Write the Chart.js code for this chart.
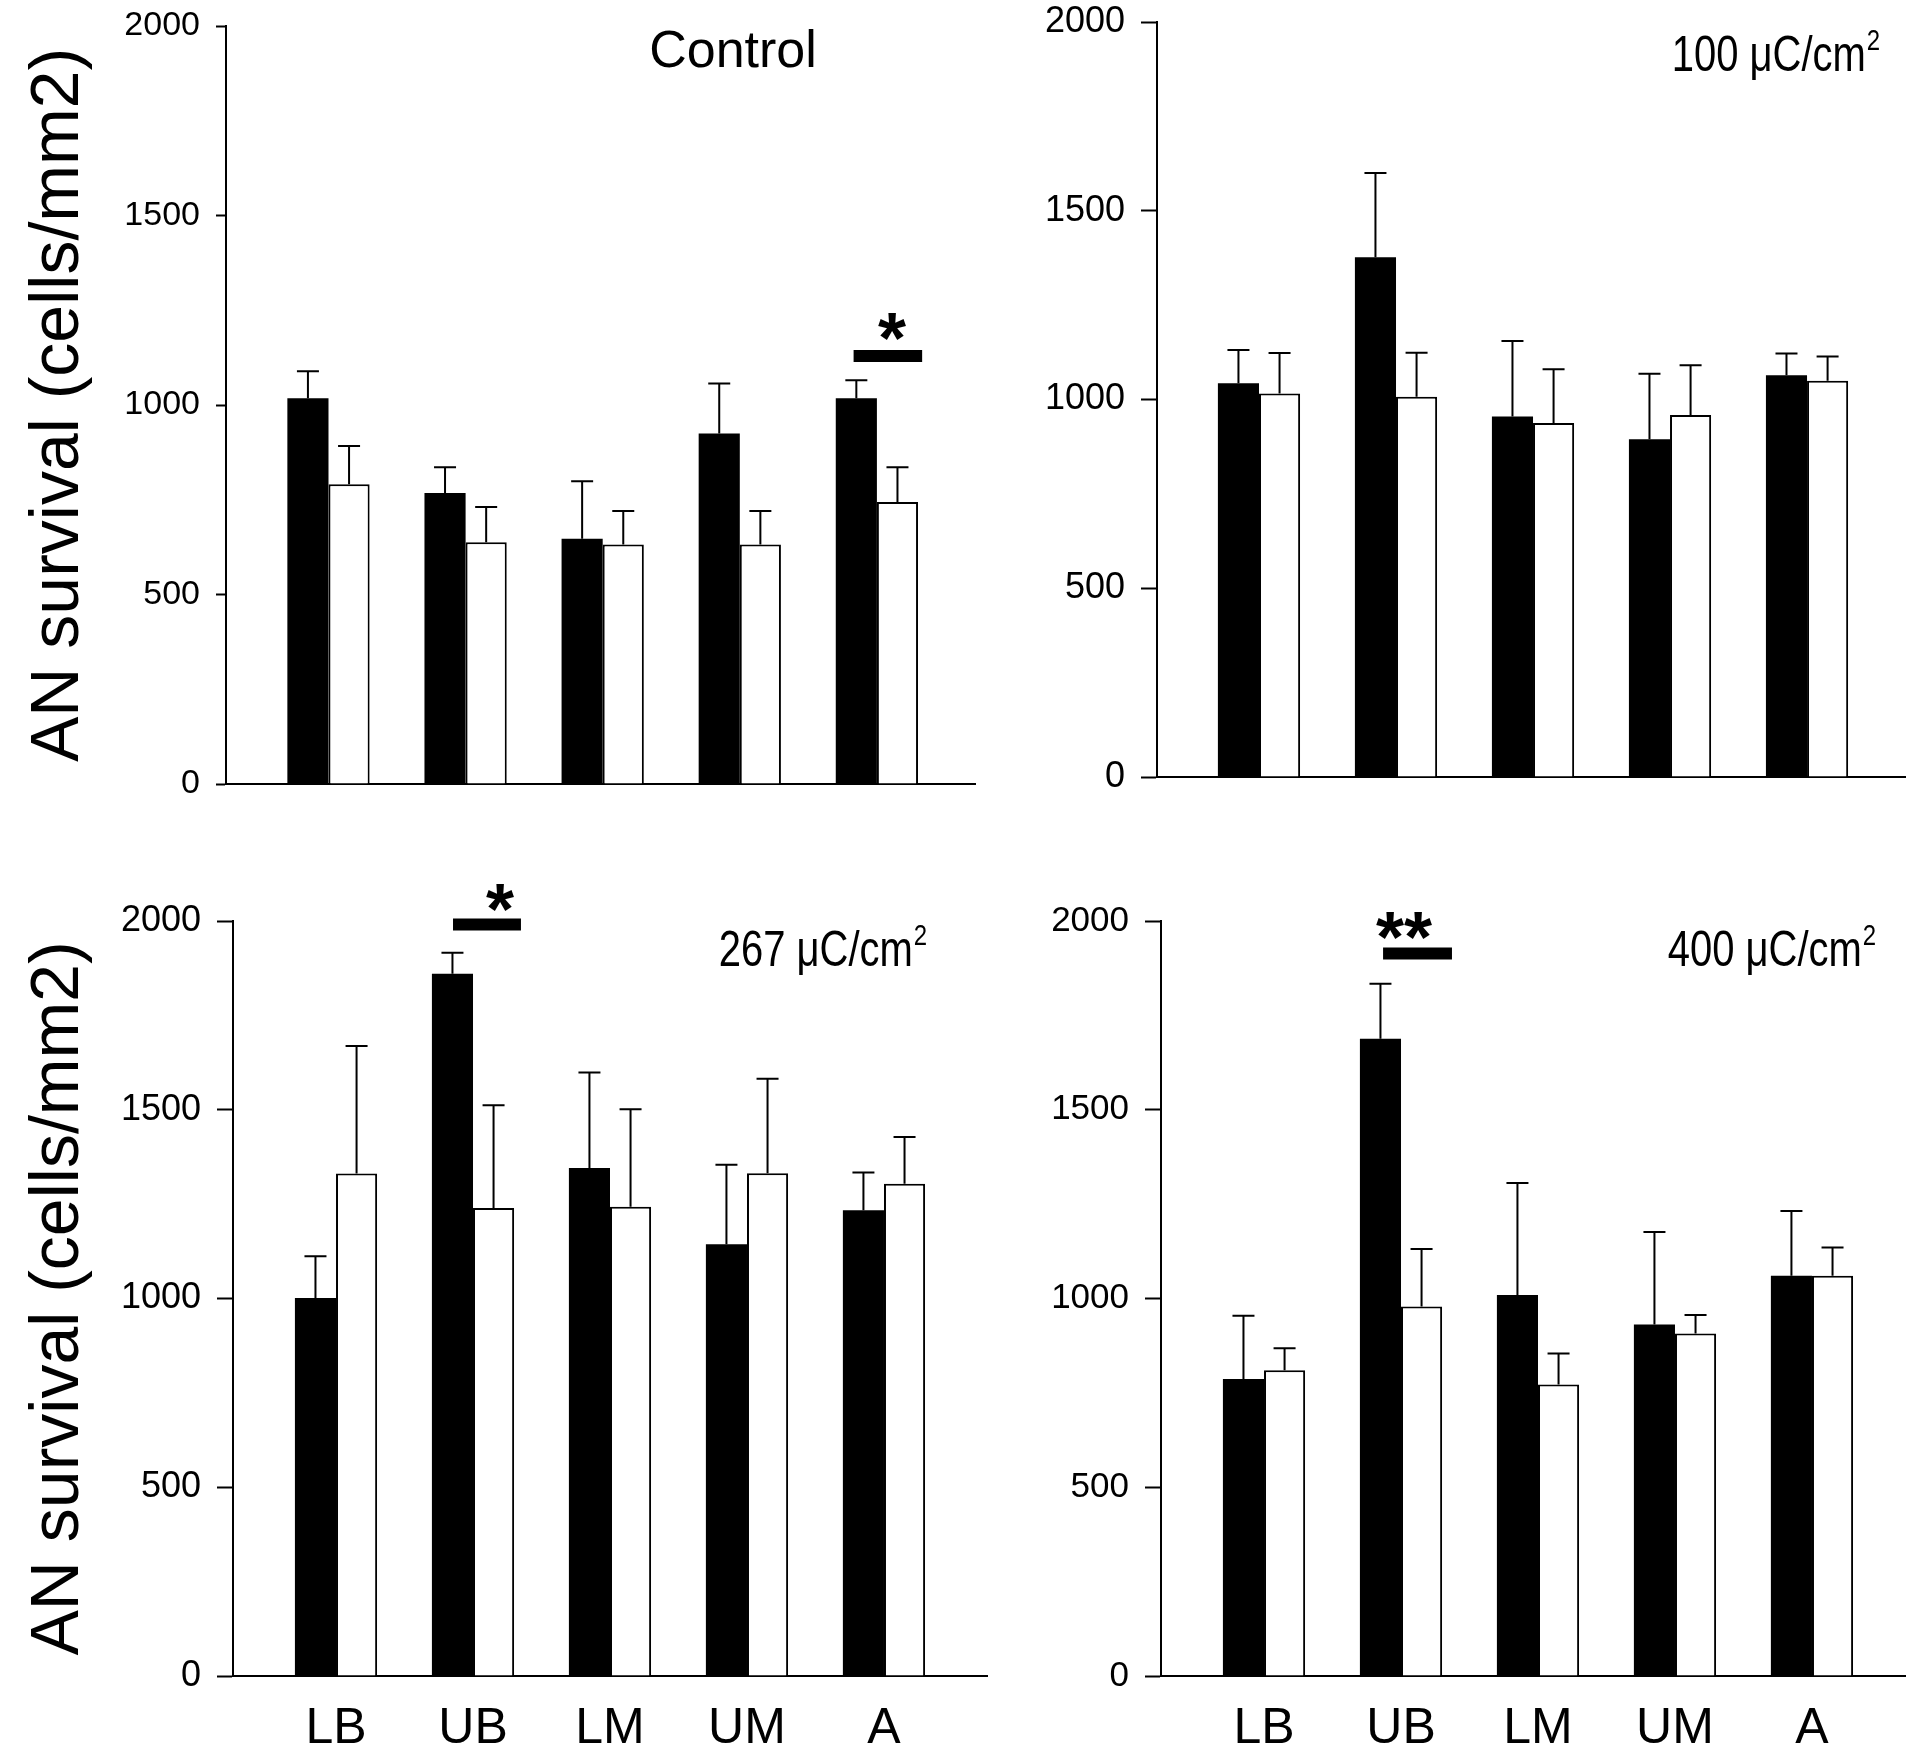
<!DOCTYPE html>
<html>
<head>
<meta charset="utf-8">
<script src="https://cdn.jsdelivr.net/npm/chart.js@4.4.1/dist/chart.umd.min.js"></script>
<style>
  html, body { margin: 0; padding: 0; background: #fff; }
  body { width: 1920px; height: 1751px; position: relative; overflow: hidden; }
  canvas { position: absolute; }
</style>
</head>
<body>
<canvas id="panelControl"></canvas>
<canvas id="panel100"></canvas>
<canvas id="panel267"></canvas>
<canvas id="panel400"></canvas>
<script>
const categories = ['LB', 'UB', 'LM', 'UM', 'A'];
const yTickValues = [0, 500, 1000, 1500, 2000];

// Control
const controlBlack = [1018, 768, 647, 925, 1018];
const controlBlackErr = [71, 68, 152, 132, 47];
const controlWhite = [791, 638, 632, 632, 744];
const controlWhiteErr = [101, 93, 88, 88, 92];

// 100 uC/cm2
const dose100Black = [1043, 1377, 955, 895, 1064];
const dose100BlackErr = [88, 223, 200, 173, 58];
const dose100White = [1016, 1007, 938, 959, 1050];
const dose100WhiteErr = [107, 117, 142, 132, 64];

// 267 uC/cm2
const dose267Black = [1001, 1860, 1346, 1144, 1234];
const dose267BlackErr = [111, 56, 253, 210, 100];
const dose267White = [1331, 1240, 1243, 1332, 1304];
const dose267WhiteErr = [338, 272, 258, 250, 124];

// 400 uC/cm2
const dose400Black = [787, 1688, 1009, 931, 1060];
const dose400BlackErr = [167, 146, 297, 245, 172];
const dose400White = [810, 979, 772, 907, 1060];
const dose400WhiteErr = [58, 152, 82, 49, 75];

// significance markers: [from, to, y, text, textX, textY]
const controlSig = [4.83, 5.33, 1129, '*', 5.11, 1217];
const dose267Sig = [1.854, 2.35, 1991, '*', 2.197, 2071];
const dose400Sig = [1.869, 2.372, 1914, '**', 2.022, 1996];

const FONT = "'Liberation Sans', Arial, Helvetica, sans-serif";

const errorBars = {
    id: 'errorBars',
    afterDatasetsDraw(chart) {
        const ctx = chart.ctx;
        const yScale = chart.scales.y;
        ctx.save();
        ctx.strokeStyle = '#000';
        ctx.lineWidth = 2;
        chart.data.datasets.forEach((ds, di) => {
            const meta = chart.getDatasetMeta(di);
            meta.data.forEach((bar, i) => {
                const top = yScale.getPixelForValue(ds.data[i].y + ds.errors[i]);
                ctx.beginPath();
                ctx.moveTo(bar.x, bar.y);
                ctx.lineTo(bar.x, top);
                ctx.moveTo(bar.x - 11, top);
                ctx.lineTo(bar.x + 11, top);
                ctx.stroke();
            });
        });
        ctx.restore();
    }
};

const sigMark = {
    id: 'sigMark',
    afterDraw(chart, args, opts) {
        if (!opts.mark) return;
        const [x0, x1, y, text, tx, ty] = opts.mark;
        const xs = chart.scales.x, ys = chart.scales.y;
        const ctx = chart.ctx;
        ctx.save();
        ctx.strokeStyle = '#000';
        ctx.lineWidth = 12;
        ctx.beginPath();
        ctx.moveTo(xs.getPixelForValue(x0), ys.getPixelForValue(y));
        ctx.lineTo(xs.getPixelForValue(x1), ys.getPixelForValue(y));
        ctx.stroke();
        const size = 72;
        ctx.fillStyle = '#000';
        ctx.font = `bold ${size}px ${FONT}`;
        ctx.textAlign = 'center';
        ctx.textBaseline = 'alphabetic';
        ctx.fillText(text, xs.getPixelForValue(tx), ys.getPixelForValue(ty) + 0.555 * size);
        ctx.restore();
    }
};

// panel caption, optionally squeezed sideways (dose captions are narrow in the original)
const panelTitle = {
    id: 'panelTitle',
    afterDraw(chart, args, opts) {
        const ctx = chart.ctx;
        const size = opts.size;
        const supSize = Math.round(size * 0.6);
        const squeeze = opts.squeeze || 1;
        ctx.save();
        ctx.fillStyle = '#000';
        ctx.textBaseline = 'alphabetic';
        ctx.textAlign = 'left';
        ctx.font = `${size}px ${FONT}`;
        const w1 = ctx.measureText(opts.main).width;
        ctx.font = `${supSize}px ${FONT}`;
        const w2 = opts.sup ? ctx.measureText(opts.sup).width + 1 : 0;
        const total = (w1 + w2) * squeeze;
        const x0 = opts.align === 'center' ? opts.x - total / 2 : opts.x - total;
        ctx.translate(x0, opts.y);
        ctx.scale(squeeze, 1);
        ctx.font = `${size}px ${FONT}`;
        ctx.fillText(opts.main, 0, 0);
        if (opts.sup) {
            ctx.font = `${supSize}px ${FONT}`;
            ctx.fillText(opts.sup, w1 + 1, -Math.round(size * 0.42));
        }
        ctx.restore();
    }
};

function makePanel(id, p) {
    const canvas = document.getElementById(id);
    const [left, top, width, height] = p.box;
    canvas.width = width;
    canvas.height = height;
    canvas.style.left = left + 'px';
    canvas.style.top = top + 'px';

    // chart area edges are given in page pixels
    const area = p.area;
    const toPoints = arr => arr.map((v, i) => ({ x: i + 1, y: v }));
    const title = Object.assign({}, p.title, { x: p.title.x - left, y: p.title.y - top });

    new Chart(canvas, {
        type: 'bar',
        data: {
            datasets: [{
                data: toPoints(p.black),
                errors: p.blackErr,
                backgroundColor: '#000',
                borderColor: '#000',
                borderWidth: 0,
                categoryPercentage: 0.6,
                barPercentage: 1.0
            }, {
                data: toPoints(p.white),
                errors: p.whiteErr,
                backgroundColor: '#fff',
                borderColor: '#000',
                borderWidth: 2,
                categoryPercentage: 0.6,
                barPercentage: 1.0
            }]
        },
        options: {
            responsive: false,
            animation: false,
            devicePixelRatio: 1,
            layout: {
                autoPadding: false,
                padding: { left: 0, right: left + width - area.right, top: area.top - top, bottom: 0 }
            },
            plugins: {
                legend: { display: false },
                tooltip: { enabled: false },
                sigMark: { mark: p.sig },
                panelTitle: title
            },
            scales: {
                x: {
                    type: 'linear',
                    min: p.xMin,
                    max: p.xMax,
                    offset: false,
                    grid: { display: false, drawTicks: false, offset: false },
                    border: { display: true, color: '#000', width: 2 },
                    afterBuildTicks: s => { s.ticks = categories.map((c, i) => ({ value: i + 1 })); },
                    ticks: {
                        display: p.showLabels,
                        autoSkip: false,
                        maxRotation: 0,
                        padding: 28,
                        color: '#000',
                        font: { family: FONT, size: 50, lineHeight: 1 },
                        callback: v => categories[Math.round(v) - 1]
                    },
                    afterFit: s => { s.height = top + height - area.bottom; }
                },
                y: {
                    type: 'linear',
                    position: 'left',
                    min: 0,
                    max: 2000,
                    afterBuildTicks: s => { s.ticks = yTickValues.map(v => ({ value: v })); },
                    grid: {
                        drawOnChartArea: false,
                        drawTicks: true,
                        tickLength: p.tickLength,
                        tickColor: '#000',
                        tickWidth: 2
                    },
                    border: { display: true, color: '#000', width: 2 },
                    ticks: {
                        color: '#000',
                        padding: 16,
                        font: { family: FONT, size: p.tickFont },
                        callback: v => String(v)
                    },
                    title: {
                        display: p.showYTitle,
                        text: 'AN survival (cells/mm2)',
                        color: '#000',
                        font: { family: FONT, size: 68, lineHeight: 1 },
                        padding: { top: 25, bottom: 0 }
                    },
                    afterFit: s => { s.width = area.left - left; }
                }
            }
        },
        plugins: [errorBars, sigMark, panelTitle]
    });
}

makePanel('panelControl', {
    box: [0, -40, 990, 910],
    area: { left: 226, right: 975, top: 26, bottom: 784 },
    black: controlBlack, blackErr: controlBlackErr,
    white: controlWhite, whiteErr: controlWhiteErr,
    sig: controlSig,
    title: { main: 'Control', sup: '', x: 733, y: 67, align: 'center', size: 52 },
    xMin: 0.2524, xMax: 5.7155,
    tickLength: 10, tickFont: 34, showLabels: false, showYTitle: true
});

makePanel('panel100', {
    box: [960, -40, 960, 910],
    area: { left: 1157, right: 1905, top: 22, bottom: 777 },
    black: dose100Black, blackErr: dose100BlackErr,
    white: dose100White, whiteErr: dose100WhiteErr,
    sig: null,
    title: { main: '100 \u03bcC/cm', sup: '2', x: 1880, y: 71, align: 'right', size: 50, squeeze: 0.8 },
    xMin: 0.2555, xMax: 5.715,
    tickLength: 16, tickFont: 36, showLabels: false, showYTitle: false
});

makePanel('panel267', {
    box: [0, 870, 990, 881],
    area: { left: 233, right: 987, top: 921, bottom: 1676 },
    black: dose267Black, blackErr: dose267BlackErr,
    white: dose267White, whiteErr: dose267WhiteErr,
    sig: dose267Sig,
    title: { main: '267 \u03bcC/cm', sup: '2', x: 927, y: 966, align: 'right', size: 50, squeeze: 0.8 },
    xMin: 0.248, xMax: 5.752,
    tickLength: 16, tickFont: 36, showLabels: true, showYTitle: true
});

makePanel('panel400', {
    box: [960, 870, 960, 881],
    area: { left: 1161, right: 1905, top: 921, bottom: 1676 },
    black: dose400Black, blackErr: dose400BlackErr,
    white: dose400White, whiteErr: dose400WhiteErr,
    sig: dose400Sig,
    title: { main: '400 \u03bcC/cm', sup: '2', x: 1876, y: 966, align: 'right', size: 50, squeeze: 0.8 },
    xMin: 0.248, xMax: 5.679,
    tickLength: 16, tickFont: 35, showLabels: true, showYTitle: false
});
</script>
</body>
</html>
